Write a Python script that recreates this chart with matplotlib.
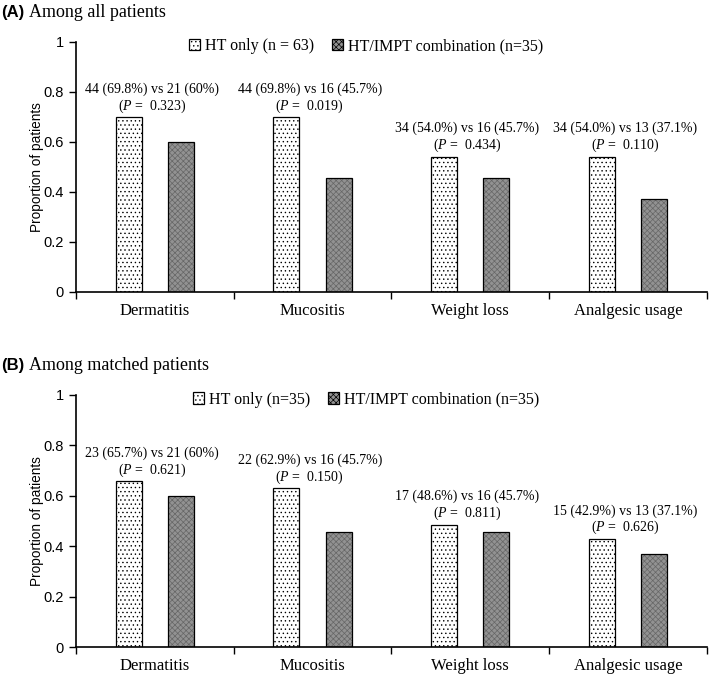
import matplotlib.pyplot as plt
import numpy as np

# Datos
categorias = ["Dermatitis", "Mucositis", "Weight loss", "Analgesic usage"]

# Panel A: todos los pacientes
ht_todos = [0.698, 0.698, 0.540, 0.540]
combo_todos = [0.600, 0.457, 0.457, 0.371]
textos_todos = ["44 (69.8%) vs 21 (60%)", "44 (69.8%) vs 16 (45.7%)",
                "34 (54.0%) vs 16 (45.7%)", "34 (54.0%) vs 13 (37.1%)"]
p_todos = ["0.323", "0.019", "0.434", "0.110"]

# Panel B: pacientes emparejados
ht_emparejados = [0.657, 0.629, 0.486, 0.429]
combo_emparejados = [0.600, 0.457, 0.457, 0.371]
textos_emparejados = ["23 (65.7%) vs 21 (60%)", "22 (62.9%) vs 16 (45.7%)",
                      "17 (48.6%) vs 16 (45.7%)", "15 (42.9%) vs 13 (37.1%)"]
p_emparejados = ["0.621", "0.150", "0.811", "0.626"]

leyenda_todos = ["HT only (n = 63)", "HT/IMPT combination (n=35)"]
leyenda_emparejados = ["HT only (n=35)", "HT/IMPT combination (n=35)"]

SERIF = "Liberation Serif"
SANS = "Liberation Sans"
plt.rcParams['hatch.linewidth'] = 0.5
plt.rcParams['mathtext.fontset'] = 'custom'
plt.rcParams['mathtext.rm'] = SERIF
plt.rcParams['mathtext.it'] = SERIF + ':italic'

fig = plt.figure(figsize=(7.09, 6.74), dpi=100)


def dibujar_panel(ax, ht, combo, textos, pvals, leyenda):
    x = np.arange(len(categorias))
    ancho = 0.165
    desp = 0.165
    b1 = ax.bar(x - desp, ht, ancho, color="white", edgecolor="black",
                hatch="....", linewidth=0.9, label=leyenda[0])
    # barra gris con trama fina
    ax.bar(x + desp, combo, ancho, color="#929292", edgecolor="#666666",
           hatch="xxxxxx", linewidth=0)
    ax.bar(x + desp, combo, ancho, fill=False, edgecolor="black", linewidth=0.9)
    b2 = ax.bar([0], [0], 0, color="#929292", edgecolor="black", hatch="xxxxxx",
                linewidth=0.9, label=leyenda[1])

    for i in range(len(categorias)):
        ax.annotate(textos[i] + "\n($P$ =  " + pvals[i] + ")",
                    xy=(x[i], ht[i]), xytext=(-2, 2), textcoords="offset points",
                    ha="center", va="bottom", fontsize=10, family=SERIF,
                    linespacing=1.1)

    ax.set_xlim(-0.5, 3.5)
    ax.set_ylim(0, 1)
    ax.set_yticks(np.arange(0, 1.01, 0.2))
    ax.set_yticklabels(["0", "0.2", "0.4", "0.6", "0.8", "1"], family=SANS, fontsize=10.5)
    ax.set_xticks(x)
    ax.set_xticklabels(categorias, family=SERIF, fontsize=12)
    ax.tick_params(axis="x", which="major", length=0, pad=8)
    ax.set_xticks(np.arange(-0.5, 3.6, 1), minor=True)
    ax.tick_params(axis="x", which="minor", length=5, width=1)
    ax.tick_params(axis="y", length=5, width=1)
    ax.spines["top"].set_visible(False)
    ax.spines["right"].set_visible(False)
    ax.spines["left"].set_linewidth(1.2)
    ax.spines["bottom"].set_linewidth(1.2)
    ax.set_ylabel("Proportion of patients", family=SANS, fontsize=9.8, labelpad=0)
    ax.legend(handles=[b1, b2], ncol=2, frameon=False, loc="center",
              bbox_to_anchor=(0.46, 0.982), prop={"family": SERIF, "size": 11.5},
              handlelength=0.7, handleheight=0.7, handletextpad=0.3,
              columnspacing=1.1)


ax1 = fig.add_axes([0.107, 0.567, 0.890, 0.371])
dibujar_panel(ax1, ht_todos, combo_todos, textos_todos, p_todos, leyenda_todos)
ax2 = fig.add_axes([0.107, 0.040, 0.890, 0.374])
dibujar_panel(ax2, ht_emparejados, combo_emparejados, textos_emparejados,
              p_emparejados, leyenda_emparejados)

# titulos de los paneles
fig.text(0.002, 0.982, "(A)", family=SANS, fontweight="bold", fontsize=12, va="center")
fig.text(0.041, 0.982, "Among all patients", family=SERIF, fontsize=13, va="center")
fig.text(0.002, 0.458, "(B)", family=SANS, fontweight="bold", fontsize=12, va="center")
fig.text(0.041, 0.458, "Among matched patients", family=SERIF, fontsize=13, va="center")

fig.savefig("out.png", dpi=100)
